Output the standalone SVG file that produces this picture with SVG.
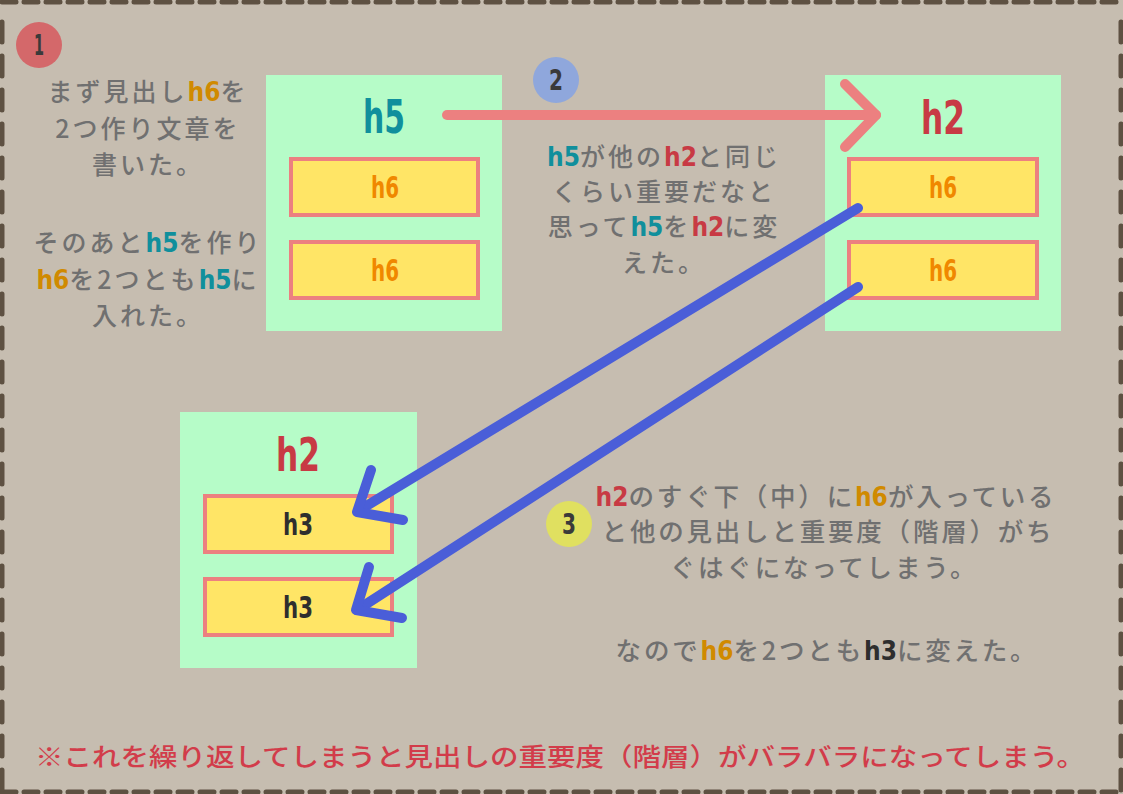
<svg xmlns="http://www.w3.org/2000/svg" width="1123" height="794" viewBox="0 0 1123 794">
<style>
.bg{fill:#c6bdb0}
.border{stroke:#5e5142;stroke-width:5;stroke-linecap:round;fill:none}
.panel{fill:#b6fcc8}
.item{fill:#ffe566;stroke:#ec8080;stroke-width:4}
.jp{font-family:"Noto Sans CJK JP","Noto Sans",sans-serif;font-size:25px;letter-spacing:3px;font-weight:500;fill:#707070;text-anchor:middle}
.jp3{font-size:25.5px;letter-spacing:2.8px}
.tag{font-family:"DejaVu Sans Condensed","DejaVu Sans",sans-serif;font-weight:bold;font-size:26px;letter-spacing:0}
.big{font-family:"DejaVu Sans Condensed","DejaVu Sans",sans-serif;font-weight:bold;font-size:46px;text-anchor:middle}
.small{font-family:"DejaVu Sans Condensed","DejaVu Sans",sans-serif;font-weight:bold;font-size:30px;text-anchor:middle}
.num{font-family:"DejaVu Sans Condensed","DejaVu Sans",sans-serif;font-weight:bold;font-size:28px;fill:#3a3a3a;text-anchor:middle}
.t5{fill:#108f9c}.t6{fill:#d08a00}.t2{fill:#c83a44}.t3{fill:#2e2e2e}.o6{fill:#f08800}
.red{stroke:#ec8080;stroke-width:10;stroke-linecap:round;stroke-linejoin:round;fill:none}
.blue{stroke:#4a5ed8;stroke-width:10;stroke-linecap:round;stroke-linejoin:round;fill:none}
</style>
<rect class="bg" x="0" y="0" width="1123" height="794"/>
<g id="frame">
<line class="border" x1="2" y1="2" x2="1121" y2="2" stroke-dasharray="14 8"/>
<line class="border" x1="2" y1="792" x2="1121" y2="792" stroke-dasharray="14 8"/>
<line class="border" x1="2" y1="22" x2="2" y2="792" stroke-dasharray="20 14"/>
<line class="border" x1="1121" y1="22" x2="1121" y2="792" stroke-dasharray="20 14"/>
</g>
<g id="step1">
<circle cx="39" cy="45" r="23" fill="#d4686a"/>
<text class="num" x="39" y="55" textLength="10" lengthAdjust="spacingAndGlyphs">1</text>
</g>
<g id="step2">
<circle cx="556" cy="80" r="23" fill="#8fa7dc"/>
<text class="num" x="556" y="90" textLength="14" lengthAdjust="spacingAndGlyphs">2</text>
</g>
<g id="step3">
<circle cx="569" cy="524" r="23" fill="#e0e060"/>
<text class="num" x="569" y="534" textLength="14" lengthAdjust="spacingAndGlyphs">3</text>
</g>
<g id="node-h5">
<rect class="panel" x="266" y="75" width="236" height="256"/>
<text class="big t5" x="384" y="133" textLength="42" lengthAdjust="spacingAndGlyphs">h5</text>
<rect class="item" x="291" y="159" width="187" height="56"/>
<text class="small o6" x="385" y="198" textLength="28" lengthAdjust="spacingAndGlyphs">h6</text>
<rect class="item" x="291" y="242" width="187" height="56"/>
<text class="small o6" x="385" y="281" textLength="28" lengthAdjust="spacingAndGlyphs">h6</text>
</g>
<g id="node-h2-right">
<rect class="panel" x="825" y="75" width="236" height="256"/>
<text class="big t2" x="943" y="134" textLength="44" lengthAdjust="spacingAndGlyphs">h2</text>
<rect class="item" x="849" y="159" width="188" height="56"/>
<text class="small o6" x="943" y="198" textLength="28" lengthAdjust="spacingAndGlyphs">h6</text>
<rect class="item" x="849" y="242" width="188" height="56"/>
<text class="small o6" x="943" y="281" textLength="28" lengthAdjust="spacingAndGlyphs">h6</text>
</g>
<g id="node-h2-bottom">
<rect class="panel" x="180" y="412" width="237" height="256"/>
<text class="big t2" x="298" y="471" textLength="44" lengthAdjust="spacingAndGlyphs">h2</text>
<rect class="item" x="205" y="496" width="187" height="56"/>
<text class="small t3" x="298" y="535" textLength="30" lengthAdjust="spacingAndGlyphs">h3</text>
<rect class="item" x="205" y="579" width="187" height="56"/>
<text class="small t3" x="298" y="618" textLength="30" lengthAdjust="spacingAndGlyphs">h3</text>
</g>
<g id="connectors">
<line class="red" x1="447" y1="115" x2="876" y2="115"/>
<polyline class="red" points="845,84 876,115 845,147"/>
<line class="blue" x1="858" y1="208" x2="358" y2="511"/>
<polyline class="blue" points="371,470 357,512 403,520"/>
<line class="blue" x1="858" y1="287" x2="357" y2="610"/>
<polyline class="blue" points="369,567 356,610 402,618"/>
</g>
<g id="text1">
<text class="jp" x="148" y="101">まず見出し<tspan class="tag t6">h6</tspan>を</text>
<text class="jp" x="148" y="138">2つ作り文章を</text>
<text class="jp" x="148" y="174">書いた。</text>
<text class="jp" x="148" y="252">そのあと<tspan class="tag t5">h5</tspan>を作り</text>
<text class="jp" x="148" y="289"><tspan class="tag t6">h6</tspan>を2つとも<tspan class="tag t5">h5</tspan>に</text>
<text class="jp" x="148" y="325">入れた。</text>
</g>
<g id="text2">
<text class="jp" x="664" y="166"><tspan class="tag t5">h5</tspan>が他の<tspan class="tag t2">h2</tspan>と同じ</text>
<text class="jp" x="664" y="201">くらい重要だなと</text>
<text class="jp" x="664" y="236">思って<tspan class="tag t5">h5</tspan>を<tspan class="tag t2">h2</tspan>に変</text>
<text class="jp" x="664" y="272">えた。</text>
</g>
<g id="text3">
<text class="jp jp3" x="826" y="506"><tspan class="tag t2">h2</tspan>のすぐ下（中）に<tspan class="tag t6">h6</tspan>が入っている</text>
<text class="jp jp3" x="828" y="541">と他の見出しと重要度（階層）がち</text>
<text class="jp jp3" x="824" y="577">ぐはぐになってしまう。</text>
<text class="jp jp3" x="827" y="660">なので<tspan class="tag t6">h6</tspan>を2つとも<tspan class="tag t3">h3</tspan>に変えた。</text>
</g>
<g id="note">
<text class="jp" x="560" y="766" style="fill:#d23c4a;letter-spacing:0" textLength="1050" lengthAdjust="spacingAndGlyphs">※これを繰り返してしまうと見出しの重要度（階層）がバラバラになってしまう。</text>
</g>
</svg>
